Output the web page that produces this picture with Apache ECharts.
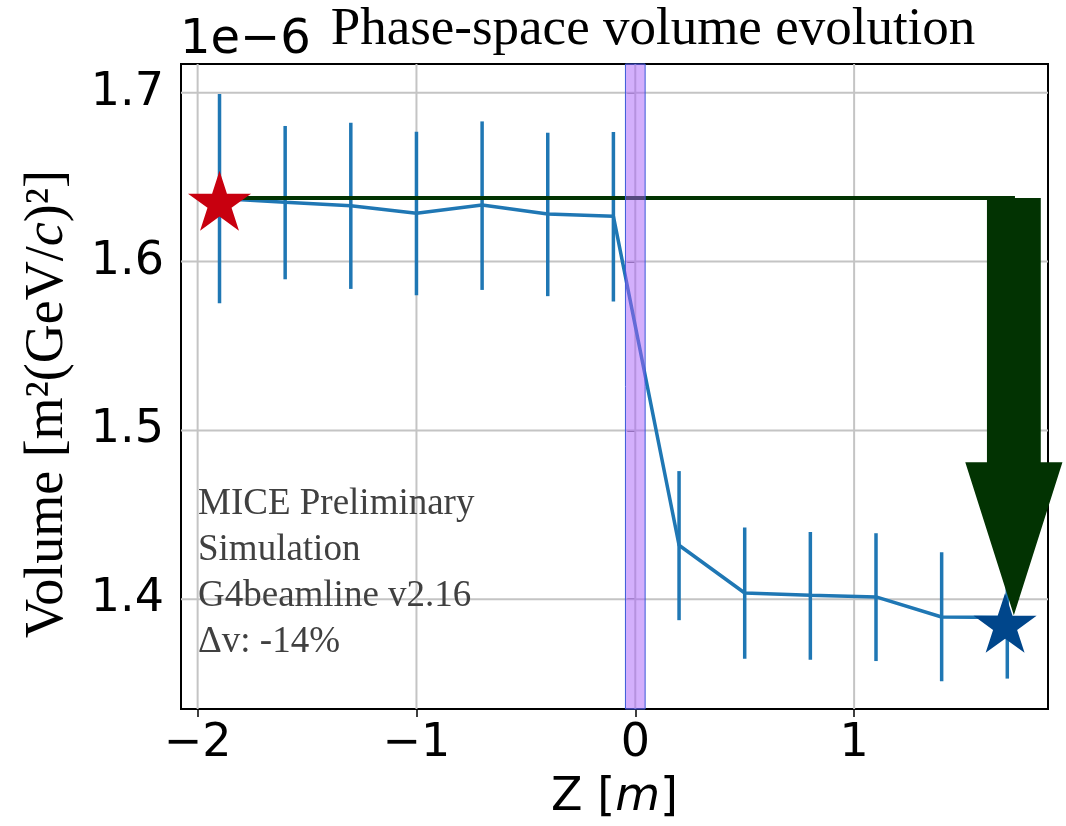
<!DOCTYPE html>
<html>
<head>
<meta charset="utf-8">
<script src="https://cdn.jsdelivr.net/npm/echarts@6/dist/echarts.min.js"></script>
<style>
html,body{margin:0;padding:0;background:#fff;}
#chart{width:1066px;height:826px;}
</style>
</head>
<body>
<div id="chart"></div>
<script>
// ---- data (volume in units of 1e-6 m^2 (GeV/c)^2) ----
const zPos     = [-1.9, -1.6, -1.3, -1.0, -0.7, -0.4, -0.1, 0.2, 0.5, 0.8, 1.1, 1.4, 1.7];
const volume   = [1.6374, 1.6351, 1.6331, 1.6286, 1.6335, 1.6282, 1.6268, 1.4320, 1.4037, 1.4024, 1.4014, 1.3895, 1.3892];
const errLow   = [1.5753, 1.5895, 1.5838, 1.5800, 1.5832, 1.5795, 1.5763, 1.3876, 1.3648, 1.3642, 1.3634, 1.3514, 1.3530];
const errHigh  = [1.6992, 1.6803, 1.6822, 1.6769, 1.6830, 1.6763, 1.6767, 1.4759, 1.4425, 1.4399, 1.4391, 1.4279, 1.4254];

const xTicks = [-2, -1, 0, 1];
const xTickLabels = ['\u22122', '\u22121', '0', '1'];
const yTicks = [1.4, 1.5, 1.6, 1.7];
const yTickLabels = ['1.4', '1.5', '1.6', '1.7'];

const startStar = [-1.9, 1.636];
const endStar   = [1.69, 1.386];
const refLine   = [[-1.9, 1.6377], [1.735, 1.6377]];
const absorberBand = [-0.045, 0.045];
// arrow: [x centre, top, head base, tip] in data units
const arrowGeom = [1.73, 1.6377, 1.4811, 1.3905];
const arrowHalfWidths = [0.123, 0.222]; // shaft, head (in z units)

const titleText = 'Phase-space volume evolution';
const offsetText = '1e\u22126';
const annotationLines = ['MICE Preliminary', 'Simulation', 'G4beamline v2.16', '\u0394v: -14%'];

const SERIF = '"Liberation Serif", "Times New Roman", serif';
const SANS = '"DejaVu Sans", sans-serif';

function labelFor(ticks, labels, v) {
  for (let i = 0; i < ticks.length; i++) if (Math.abs(ticks[i] - v) < 1e-9) return labels[i];
  return '';
}

const starPath = 'path://M100,0 L122.45,69.1 L195.11,69.1 L136.33,111.8 L158.78,180.9 L100,138.2 L41.22,180.9 L63.67,111.8 L4.89,69.1 L77.55,69.1 Z';

const chart = echarts.init(document.getElementById('chart'), null, {renderer: 'canvas'});

const graphics = [
  {type: 'text', x: 653, y: 30, z: 100,
   style: {text: titleText, font: '53px ' + SERIF, fill: '#000', align: 'center', verticalAlign: 'middle'}},
  {type: 'text', x: 180, y: 41, z: 100,
   style: {text: offsetText, font: '48px ' + SANS, fill: '#000', align: 'left', verticalAlign: 'middle'}},
  {type: 'text', x: 48, y: 404, rotation: Math.PI / 2, z: 100,
   style: {text: 'Volume [m\u00b2(GeV/{i|c})\u00b2]', font: '54px ' + SERIF, fill: '#000',
           align: 'center', verticalAlign: 'middle',
           rich: {i: {fontStyle: 'italic', fontFamily: SERIF, fontSize: 54, fill: '#000'}}}}
];
annotationLines.forEach(function (t, i) {
  graphics.push({type: 'text', x: 198, y: 504 + i * 46, z: 100,
    style: {text: t, font: '37px ' + SERIF, fill: '#404040', align: 'left', verticalAlign: 'middle'}});
});

const option = {
  animation: false,
  backgroundColor: '#fff',
  grid: {left: 181, right: 18, top: 64, bottom: 117, show: true, borderColor: '#000', borderWidth: 2},
  xAxis: {
    type: 'value', min: -2.076, max: 1.886,
    axisLine: {show: false},
    splitLine: {show: false},
    axisTick: {show: true, customValues: xTicks, length: 8, lineStyle: {color: '#000', width: 1.5}},
    axisLabel: {customValues: xTicks, formatter: function (v) { return labelFor(xTicks, xTickLabels, v); },
                fontFamily: SANS, fontSize: 46, color: '#000', margin: 12},
    name: 'Z [{i|m}]', nameLocation: 'middle', nameGap: 66,
    nameTextStyle: {fontFamily: SANS, fontSize: 46, color: '#000',
                    rich: {i: {fontStyle: 'italic', fontFamily: SANS, fontSize: 46, color: '#000'}}}
  },
  yAxis: {
    type: 'value', min: 1.335, max: 1.717,
    axisLine: {show: false},
    splitLine: {show: false},
    axisTick: {show: true, customValues: yTicks, length: 8, lineStyle: {color: '#000', width: 1.5}},
    axisLabel: {customValues: yTicks, formatter: function (v) { return labelFor(yTicks, yTickLabels, v); },
                fontFamily: SANS, fontSize: 46, color: '#000', margin: 17}
  },
  graphic: graphics,
  series: [
    { // vertical grid lines
      type: 'custom', z: 1, silent: true,
      data: xTicks.map(function (v) { return [v]; }),
      encode: {x: 0},
      renderItem: function (params, api) {
        const cs = params.coordSys;
        const p = api.coord([api.value(0), 1.5]);
        return {type: 'line', shape: {x1: p[0], y1: cs.y, x2: p[0], y2: cs.y + cs.height},
                style: {stroke: '#c4c4c4', lineWidth: 2}};
      }
    },
    { // horizontal grid lines
      type: 'custom', z: 1, silent: true,
      data: yTicks.map(function (v) { return [0, v]; }),
      encode: {x: 0, y: 1},
      renderItem: function (params, api) {
        const cs = params.coordSys;
        const p = api.coord([0, api.value(1)]);
        return {type: 'line', shape: {x1: cs.x, y1: p[1], x2: cs.x + cs.width, y2: p[1]},
                style: {stroke: '#c4c4c4', lineWidth: 2}};
      }
    },
    { // error bars
      type: 'custom', z: 2, silent: true,
      data: zPos.map(function (z, i) { return [z, errLow[i], errHigh[i]]; }),
      encode: {x: 0, y: [1, 2]},
      renderItem: function (params, api) {
        const lo = api.coord([api.value(0), api.value(1)]);
        const hi = api.coord([api.value(0), api.value(2)]);
        return {type: 'line', shape: {x1: lo[0], y1: lo[1], x2: hi[0], y2: hi[1]},
                style: {stroke: '#1f77b4', lineWidth: 3.5}};
      }
    },
    { // mean volume line
      type: 'line', z: 3, silent: true, showSymbol: false,
      data: zPos.map(function (z, i) { return [z, volume[i]]; }),
      lineStyle: {color: '#1f77b4', width: 3.5}
    },
    { // reference horizontal line
      type: 'line', z: 4, silent: true, showSymbol: false,
      data: refLine,
      lineStyle: {color: '#023302', width: 4}
    },
    { // absorber band
      type: 'custom', z: 5, silent: true,
      data: [absorberBand],
      renderItem: function (params, api) {
        const cs = params.coordSys;
        const a = api.coord([api.value(0), 1.5]);
        const b = api.coord([api.value(1), 1.5]);
        return {type: 'rect', shape: {x: a[0], y: cs.y, width: b[0] - a[0], height: cs.height},
                style: {fill: 'rgba(168,96,250,0.5)', stroke: '#3a5ad8', lineWidth: 1}};
      }
    },
    { // big arrow
      type: 'custom', z: 6, silent: true, clip: false,
      data: [arrowGeom],
      renderItem: function (params, api) {
        const x = api.value(0), top = api.value(1), base = api.value(2), tip = api.value(3);
        const sh = arrowHalfWidths[0], hh = arrowHalfWidths[1];
        const pts = [[x - sh, top], [x + sh, top], [x + sh, base], [x + hh, base], [x, tip],
                     [x - hh, base], [x - sh, base]].map(function (p) { return api.coord(p); });
        return {type: 'polygon', shape: {points: pts}, style: {fill: '#023302'}};
      }
    },
    { // stars
      type: 'scatter', z: 7, silent: true,
      symbol: starPath, symbolKeepAspect: true, symbolSize: 63,
      itemStyle: {opacity: 1},
      data: [
        {value: startStar, itemStyle: {color: '#c8000f', opacity: 1}},
        {value: endStar, itemStyle: {color: '#00468b', opacity: 1}}
      ]
    }
  ]
};
chart.setOption(option);
</script>
</body>
</html>
